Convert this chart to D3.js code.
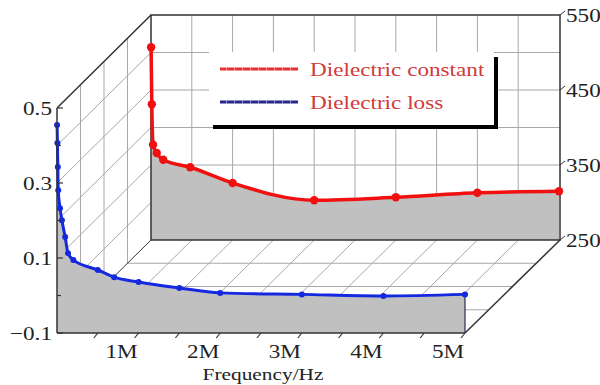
<!DOCTYPE html>
<html>
<head>
<meta charset="utf-8">
<script src="https://cdn.jsdelivr.net/npm/d3@7"></script>
<style>
  body { margin: 0; background: #fff; }
  text { font-family: "Liberation Serif", "Times New Roman", serif; }
</style>
</head>
<body>
<div id="chart"></div>
<script>
// Dielectric constant (back panel, right axis)
const freqConst = [1e3, 1e4, 2.5e4, 7e4, 1.5e5, 4.8e5, 1e6, 2e6, 3e6, 4e6, 5e6];
const dielConst = [507, 431, 377, 366, 357, 347, 326, 303, 307, 313, 315];

// Dielectric loss (front panel, left axis)
const freqLoss = [1e3, 5e3, 1e4, 1.5e4, 3.7e4, 6e4, 1e5, 1.35e5, 2e5, 5e5, 7e5, 1e6, 1.5e6, 2e6, 3e6, 4e6, 5e6];
const dielLoss = [0.455, 0.407, 0.343, 0.281, 0.233, 0.201, 0.156, 0.113, 0.095, 0.068, 0.049, 0.036, 0.020, 0.007, 0.003, -0.001, 0.003];

const xTicks = [1e6, 2e6, 3e6, 4e6, 5e6];
const xTickLabels = ['1M', '2M', '3M', '4M', '5M'];
const leftTicks = [-0.1, 0.1, 0.3, 0.5];
const leftTickLabels = ['\u22120.1', '0.1', '0.3', '0.5'];
const rightTicks = [250, 350, 450, 550];
const seriesNames = ['Dielectric constant', 'Dielectric loss'];

const width = 600, height = 385;
const svg = d3.select('#chart').append('svg')
  .attr('width', width)
  .attr('height', height);

// depth offset of the back panel
const dx = 94, dy = -93;

const x = d3.scaleLinear().domain([0, 5e6]).range([57, 465]);
const yL = d3.scaleLinear().domain([-0.1, 0.5]).range([333, 108]);
const yR = d3.scaleLinear().domain([250, 550]).range([240, 15]);

const gridColor = '#a8a8a8';
const edgeColor = '#333';
const sx = 1.22; // horizontal stretch of the glyphs

function label(g, px, py, str, anchor, size, color) {
  return g.append('text')
    .attr('transform', `translate(${px},${py}) scale(${sx},1)`)
    .attr('text-anchor', anchor)
    .attr('font-size', size)
    .attr('fill', color || '#222')
    .text(str);
}

function seg(g, x1, y1, x2, y2, color, w) {
  g.append('line')
    .attr('x1', x1).attr('y1', y1)
    .attr('x2', x2).attr('y2', y2)
    .attr('stroke', color).attr('stroke-width', w);
}

const grid = svg.append('g');
const halfSteps = d3.range(0.5e6, 5e6, 0.5e6);

// back wall grid
halfSteps.forEach(t => seg(grid, x(t) + dx, 15, x(t) + dx, 240, gridColor, 1));
d3.range(300, 550, 50).forEach(v => seg(grid, 151, yR(v), 560, yR(v), gridColor, 1));

// left wall grid
[1, 2, 3].forEach(k => {
  const ox = dx * k / 4, oy = dy * k / 4;
  seg(grid, 57 + ox, 108 + oy, 57 + ox, 333 + oy, gridColor, 1);
  seg(grid, 57 + ox, 333 + oy, 465 + ox, 333 + oy, gridColor, 1);
});
d3.range(0, 0.45, 0.1).forEach(v => seg(grid, 57, yL(v), 57 + dx, yL(v) + dy, gridColor, 1));

// floor grid
halfSteps.forEach(t => seg(grid, x(t), 333, x(t) + dx, 333 + dy, gridColor, 1));

// back panel: dielectric constant
const back = svg.append('g');
const constData = freqConst.map((f, i) => [x(f) + dx, yR(dielConst[i])]);

back.append('path')
  .datum(constData)
  .attr('fill', '#c0c0c0')
  .attr('d', d3.area().x(d => d[0]).y0(240).y1(d => d[1]).curve(d3.curveMonotoneX));

back.append('rect')
  .attr('x', 151).attr('y', 15)
  .attr('width', 409).attr('height', 225)
  .attr('fill', 'none').attr('stroke', edgeColor).attr('stroke-width', 1.5);

back.append('path')
  .datum(constData)
  .attr('fill', 'none')
  .attr('stroke', '#f01010')
  .attr('stroke-width', 3.5)
  .attr('d', d3.line().x(d => d[0]).y(d => d[1]).curve(d3.curveMonotoneX));

back.selectAll('.dot')
  .data(constData)
  .enter().append('circle')
  .attr('cx', d => d[0]).attr('cy', d => d[1])
  .attr('r', 4.2)
  .attr('fill', '#f01010');

// box edges
seg(svg, 57, 108, 151, 15, edgeColor, 1.5);
seg(svg, 465, 333, 560, 240, edgeColor, 1.5);
seg(svg, 57, 333, 151, 240, edgeColor, 1);

// right axis ticks and labels
rightTicks.forEach(v => {
  seg(svg, 560, yR(v), 565, yR(v) - 4, edgeColor, 1);
  label(svg, 566, yR(v) + 7, v, 'start', 19);
});

// legend
const legend = svg.append('g');
legend.append('rect').attr('x', 213).attr('y', 57).attr('width', 285).attr('height', 72).attr('fill', '#000');
legend.append('rect').attr('x', 209).attr('y', 52).attr('width', 285).attr('height', 73).attr('fill', '#fff');
const legendColors = ['#e83030', '#26268c'];
seriesNames.forEach((name, i) => {
  const ly = 69 + i * 33;
  seg(legend, 220, ly, 298, ly, legendColors[i], 3);
  legend.append('line')
    .attr('x1', 220).attr('y1', ly).attr('x2', 298).attr('y2', ly)
    .attr('stroke', '#fff').attr('stroke-width', 3)
    .attr('stroke-dasharray', '1,7').attr('stroke-dashoffset', -6).attr('opacity', 0.5);
  label(legend, 310, ly + 7, name, 'start', 19, '#d03a3a');
});

// front panel: dielectric loss
const front = svg.append('g');
const lossData = freqLoss.map((f, i) => [x(f), yL(dielLoss[i])]);

front.append('path')
  .datum(lossData)
  .attr('fill', '#c0c0c0')
  .attr('d', d3.area().x(d => d[0]).y0(333).y1(d => d[1]).curve(d3.curveMonotoneX));

const lastLoss = lossData[lossData.length - 1];
seg(front, lastLoss[0], lastLoss[1], lastLoss[0], 333, '#2a2a5a', 1.2);

front.append('path')
  .datum(lossData)
  .attr('fill', 'none')
  .attr('stroke', '#1428e0')
  .attr('stroke-width', 3)
  .attr('d', d3.line().x(d => d[0]).y(d => d[1]).curve(d3.curveMonotoneX));

front.selectAll('.dot')
  .data(lossData)
  .enter().append('circle')
  .attr('cx', d => d[0]).attr('cy', d => d[1])
  .attr('r', 3)
  .attr('fill', '#1428e0');

// front axes
seg(svg, 57, 108, 57, 333, edgeColor, 1.5);
seg(svg, 57, 333, 465, 333, edgeColor, 1.5);

// left ticks
d3.range(-0.1, 0.55, 0.1).forEach((v, i) => {
  seg(svg, 57, yL(v), i % 2 === 0 ? 63 : 61, yL(v), edgeColor, 1.2);
});
leftTicks.forEach((v, i) => label(svg, 52, yL(v) + 7, leftTickLabels[i], 'end', 19));

// bottom ticks
halfSteps.concat([5e6]).forEach(t => seg(svg, x(t), 333, x(t) - 4, 338, edgeColor, 1.2));
xTicks.forEach((t, i) => label(svg, x(t) - 17, 358, xTickLabels[i], 'middle', 19));

label(svg, 263, 380, 'Frequency/Hz', 'middle', 17.5);
</script>
</body>
</html>
